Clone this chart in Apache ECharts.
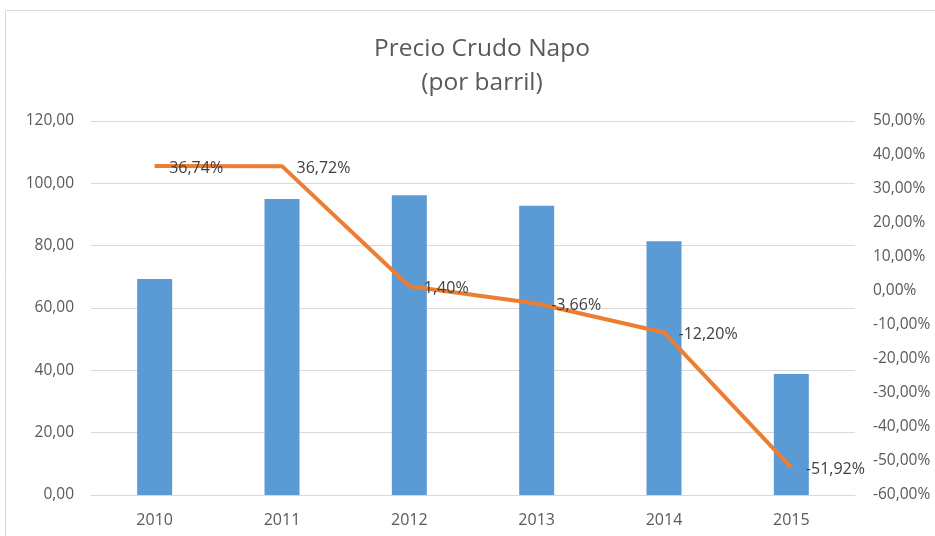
<!DOCTYPE html>
<html>
<head>
<meta charset="utf-8">
<script src="https://cdn.jsdelivr.net/npm/echarts@6/dist/echarts.min.js"></script>
<style>
	html, body { margin: 0; padding: 0; background: #fff; }
	#precioNapo { width: 935px; height: 536px; }
</style>
</head>
<body>
<div id="precioNapo"></div>
<script>
// datos
var anios = ['2010', '2011', '2012', '2013', '2014', '2015'];
var precios = [69.3, 95.0, 96.2, 92.8, 81.4, 38.8];
var variacion = [36.74, 36.72, 1.40, -3.66, -12.20, -51.92];

function coma(v, d) {
	return v.toFixed(d).replace('.', ',');
}

var myChart = echarts.init(document.getElementById('precioNapo'));
var fuente = '"Open Sans", "Noto Sans", sans-serif';
option = {
	animation: false,
	textStyle: { fontFamily: fuente },
	title: {
		text: 'Precio Crudo Napo\n(por barril)',
		left: 477,
		textAlign: 'center',
		top: 27,
		textStyle: {
			fontFamily: fuente,
			fontWeight: 'normal',
			fontSize: 24.5,
			lineHeight: 34,
			color: '#595959'
		}
	},
	graphic: [{
		type: 'rect',
		shape: { x: 5.5, y: 10.5, width: 1000, height: 600 },
		style: { fill: 'none', stroke: '#d9d9d9', lineWidth: 1 },
		silent: true
	}],
	grid: {
		left: 91,
		right: 80,
		top: 121,
		bottom: 41
	},
	xAxis: [{
		type: 'category',
		data: anios,
		axisLine: { show: true, lineStyle: { color: '#d9d9d9', width: 1 } },
		axisTick: { show: false },
		axisLabel: { color: '#595959', fontSize: 16, margin: 17 }
	}],
	yAxis: [{
		type: 'value',
		min: 0,
		max: 120,
		interval: 20,
		axisLine: { show: false },
		axisTick: { show: false },
		splitLine: { lineStyle: { color: '#d9d9d9' } },
		axisLabel: {
			color: '#595959',
			fontSize: 15.5,
			margin: 17,
			formatter: function (v) { return coma(v, 2); }
		}
	}, {
		type: 'value',
		min: -60,
		max: 50,
		interval: 10,
		axisLine: { show: false },
		axisTick: { show: false },
		splitLine: { show: false },
		axisLabel: {
			color: '#595959',
			fontSize: 15.5,
			margin: 18,
			formatter: function (v) { return coma(v, 2) + '%'; }
		}
	}],
	series: [{
		name: 'Precio',
		type: 'bar',
		data: precios,
		barWidth: 35,
		itemStyle: { color: '#5B9BD5' }
	}, {
		name: 'Variacion',
		type: 'line',
		yAxisIndex: 1,
		data: variacion,
		symbol: 'circle',
		symbolSize: 1,
		showSymbol: true,
		itemStyle: { color: '#ED7D31' },
		lineStyle: { color: '#ED7D31', width: 4 },
		label: {
			show: true,
			position: 'right',
			distance: 14,
			offset: [0, 2],
			color: '#404040',
			fontSize: 16,
			formatter: function (p) { return coma(p.value, 2) + '%'; }
		}
	}]
};
myChart.setOption(option);
</script>
</body>
</html>
